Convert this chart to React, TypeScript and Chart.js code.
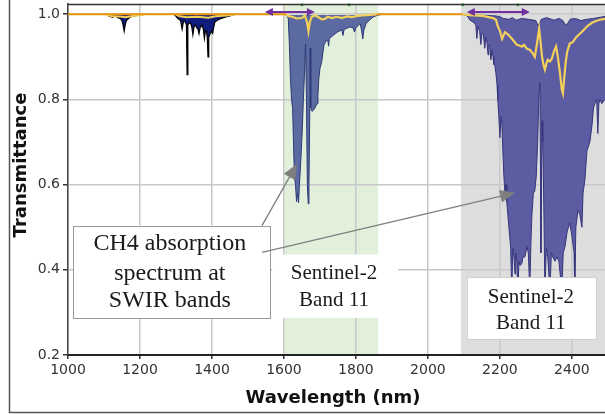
import React, { useEffect, useRef } from "react";
import { Chart, registerables } from "chart.js";
Chart.register(...registerables);

// ---------- axis ranges / ticks ----------
const X_MIN = 1000;
const X_MAX = 2492;
const Y_MIN = 0.2;
const Y_MAX = 1.024;
const X_STEP = 200;
const Y_STEP = 0.2;

// ---------- shaded bands (nm) ----------
const greenBand = [1600, 1862];
const grayBand = [2092, 2492];

// ---------- spectrum: lower envelope of transmittance ----------
const bandA_nm = [1100, 1110, 1115, 1125, 1132, 1138, 1145, 1150, 1153, 1156, 1159, 1162, 1168, 1175, 1185, 1200, 1215];
const bandA_T = [1.0, 0.999, 0.995, 0.993, 0.996, 0.992, 0.99, 0.985, 0.975, 0.96, 0.975, 0.985, 0.99, 0.994, 0.996, 0.999, 1.0];

const bandB_nm = [1295, 1303, 1308, 1313, 1317, 1321, 1326, 1329, 1331, 1333, 1337, 1341, 1344, 1347, 1350, 1354, 1358, 1361, 1364, 1367, 1372, 1376, 1379, 1382, 1385, 1387, 1389, 1391, 1395, 1399, 1402, 1405, 1408, 1415, 1422, 1432, 1441, 1450, 1460, 1470];
const bandB_T = [1.0, 0.992, 0.988, 0.985, 0.965, 0.984, 0.982, 0.975, 0.858, 0.975, 0.98, 0.978, 0.97, 0.952, 0.97, 0.975, 0.968, 0.965, 0.954, 0.968, 0.975, 0.965, 0.943, 0.962, 0.96, 0.945, 0.9, 0.945, 0.955, 0.96, 0.955, 0.97, 0.982, 0.986, 0.989, 0.992, 0.994, 0.996, 0.999, 1.0];

const bandC_nm = [1603, 1608, 1612, 1615, 1618, 1621, 1624, 1626.5, 1629, 1632, 1635, 1638, 1640.5, 1643, 1647, 1651, 1654, 1657, 1660, 1662.5, 1665, 1667.5, 1669.5, 1671.5, 1673, 1674.5, 1678, 1682, 1686, 1692, 1694.5, 1697, 1700, 1705, 1711, 1719, 1722, 1724, 1726, 1732, 1742, 1750, 1761, 1764, 1767, 1775, 1783, 1792, 1796, 1800, 1808, 1812, 1816, 1819, 1822, 1828, 1833, 1840, 1847, 1855, 1863, 1875];
const bandC_T = [1.0, 0.995, 0.99, 0.93, 0.85, 0.8, 0.78, 0.7, 0.62, 0.6, 0.56, 0.58, 0.557, 0.6, 0.66, 0.73, 0.8, 0.86, 0.93, 0.8, 0.6, 0.555, 0.6, 0.75, 0.92, 0.78, 0.772, 0.775, 0.78, 0.79, 0.812, 0.85, 0.872, 0.889, 0.928, 0.94, 0.938, 0.925, 0.942, 0.947, 0.954, 0.959, 0.963, 0.95, 0.964, 0.967, 0.97, 0.968, 0.958, 0.968, 0.975, 0.978, 0.96, 0.942, 0.962, 0.978, 0.982, 0.988, 0.993, 0.996, 0.998, 1.0];

const bandD_nm = [2092, 2097, 2108, 2117, 2125, 2133, 2136, 2139, 2144, 2147, 2150, 2154, 2158, 2161, 2164, 2167, 2169.5, 2172, 2175, 2178, 2181, 2183, 2186, 2189, 2192, 2194, 2197, 2200, 2203, 2205.5, 2208, 2211, 2214, 2217, 2219, 2222, 2225, 2228, 2230, 2233, 2236, 2239, 2242, 2244, 2247, 2250, 2253, 2256, 2261, 2264, 2269, 2272, 2275, 2279, 2283, 2286, 2289, 2293, 2297, 2301, 2305, 2308, 2311, 2313, 2314, 2315.5, 2317, 2319, 2322, 2325, 2329, 2333, 2339, 2343, 2347, 2353, 2358, 2364, 2372, 2376, 2381, 2387, 2394, 2400, 2406, 2408, 2411, 2417, 2422, 2428, 2431, 2436, 2442, 2450, 2456, 2460, 2464, 2469, 2472, 2475, 2478, 2483, 2492];
const bandD_T = [1.0, 0.999, 0.997, 0.986, 0.982, 0.975, 0.943, 0.972, 0.959, 0.929, 0.955, 0.952, 0.92, 0.945, 0.935, 0.905, 0.93, 0.928, 0.893, 0.915, 0.9, 0.882, 0.88, 0.86, 0.835, 0.8, 0.76, 0.71, 0.76, 0.74, 0.68, 0.62, 0.58, 0.6, 0.56, 0.53, 0.5, 0.47, 0.45, 0.35, 0.45, 0.43, 0.39, 0.44, 0.42, 0.35, 0.42, 0.41, 0.415, 0.43, 0.43, 0.44, 0.455, 0.44, 0.35, 0.46, 0.53, 0.58, 0.585, 0.62, 0.7, 0.8, 0.84, 0.6, 0.44, 0.6, 0.75, 0.7, 0.55, 0.35, 0.45, 0.43, 0.35, 0.44, 0.43, 0.42, 0.43, 0.42, 0.35, 0.44, 0.455, 0.49, 0.51, 0.48, 0.44, 0.35, 0.5, 0.54, 0.53, 0.5, 0.58, 0.61, 0.68, 0.7, 0.74, 0.78, 0.79, 0.8, 0.72, 0.79, 0.8, 0.79, 0.8];

// upper envelope of the 2.3 um band
const bandDTop_nm = [2092, 2100, 2130, 2165, 2190, 2200, 2210, 2225, 2235, 2245, 2260, 2280, 2300, 2305, 2310, 2315, 2330, 2350, 2365, 2375, 2382, 2388, 2395, 2410, 2425, 2440, 2460, 2480, 2492];
const bandDTop_T = [1.0, 0.999, 0.998, 0.997, 0.996, 0.994, 0.99, 0.988, 0.992, 0.986, 0.99, 0.988, 0.985, 0.975, 0.978, 0.988, 0.992, 0.986, 0.99, 0.985, 0.975, 0.978, 0.988, 0.99, 0.985, 0.988, 0.99, 0.993, 0.995];

// ---------- smoothed (band-averaged) transmittance, yellow ----------
const smoothA_nm = [1105, 1120, 1150, 1160, 1180, 1210];
const smoothA_T = [0.999, 0.996, 0.994, 0.993, 0.996, 0.999];
const smoothB_nm = [1300, 1310, 1330, 1360, 1390, 1410, 1440, 1460];
const smoothB_T = [0.999, 0.995, 0.993, 0.994, 0.992, 0.995, 0.997, 0.999];
const smoothC_nm = [1603, 1611, 1622, 1636, 1650, 1658, 1664, 1668, 1672, 1677, 1686, 1694, 1705, 1714, 1722, 1733, 1747, 1761, 1775, 1789, 1803, 1819, 1847, 1861];
const smoothC_T = [1.0, 0.996, 0.994, 0.99, 0.991, 0.997, 0.982, 0.96, 0.982, 0.994, 0.997, 0.994, 0.988, 0.989, 0.994, 0.991, 0.994, 0.991, 0.995, 0.993, 0.996, 0.997, 0.999, 1.0];
const smoothD_nm = [2092, 2117, 2153, 2181, 2189, 2194, 2200, 2206, 2214, 2222, 2236, 2247, 2256, 2261, 2267, 2275, 2283, 2292, 2297, 2303, 2309, 2313, 2317, 2321, 2325, 2329, 2333, 2339, 2344, 2350, 2356, 2361, 2367, 2372, 2375, 2379, 2383, 2387, 2394, 2403, 2411, 2419, 2428, 2436, 2444, 2456, 2467, 2478, 2492];
const smoothD_T = [1.0, 0.998, 0.996, 0.991, 0.987, 0.972, 0.961, 0.942, 0.958, 0.953, 0.94, 0.928, 0.926, 0.924, 0.928, 0.919, 0.917, 0.907, 0.9, 0.931, 0.966, 0.935, 0.9, 0.882, 0.87, 0.884, 0.893, 0.889, 0.895, 0.912, 0.924, 0.9, 0.861, 0.823, 0.814, 0.853, 0.889, 0.912, 0.931, 0.935, 0.945, 0.952, 0.959, 0.966, 0.973, 0.98, 0.984, 0.987, 0.989];

// ---------- orange reference line at T = 1 (outside the absorption bands) ----------
const ref_nm = [1000, 1605, 1606, 1858, 2095];
const ref_T = [1.0, 1.0, null, 1.0, 1.0];

// ---------- markers at the top of the plot ----------
const markers_nm = [1650, 1781, 2097, 2250];
const markers_T = [1.022, 1.022, 1.022, 1.022];

// ---------- band-width double arrows (purple) ----------
const bandArrows_nm = [
  [1547, 1686],
  [2108, 2283],
];
const bandArrow_T = 1.0055;

// ---------- annotations ----------
const ch4Box = { x0: 1014, x1: 1561, y0: 0.5037, y1: 0.2867 };
const ch4Lines = ["CH4 absorption", "spectrum at", "SWIR bands"];
const ch4Text = { x: 1283, ys: [0.4617, 0.3917, 0.3283] };

const s2BoxA = { x0: 1567, x1: 1917, y0: 0.436, y1: 0.2867 };
const s2BoxB = { x0: 2108, x1: 2467, y0: 0.3824, y1: 0.2378 };
const s2Lines = ["Sentinel-2", "Band 11"];
const s2TextA = { x: 1739, ys: [0.3917, 0.3283] };
const s2TextB = { x: 2286, ys: [0.3357, 0.2751] };

const pointerArrows = [
  { from: [1539, 0.5037], to: [1636, 0.6484] },
  { from: [1539, 0.4407], to: [2242, 0.5807] },
];

const PLOT_RIGHT = 605;

function zip(xs: number[], ys: (number | null)[]) {
  const n = Math.min(xs.length, ys.length);
  const out: { x: number; y: number | null }[] = [];
  for (let i = 0; i < n; i++) out.push({ x: xs[i], y: ys[i] });
  return out;
}

function arrowHead(ctx: CanvasRenderingContext2D, fx: number, fy: number, tx: number, ty: number, len: number, w: number, color: string) {
  const ang = Math.atan2(ty - fy, tx - fx);
  ctx.save();
  ctx.translate(tx, ty);
  ctx.rotate(ang);
  ctx.beginPath();
  ctx.moveTo(0, 0);
  ctx.lineTo(-len, w / 2);
  ctx.lineTo(-len, -w / 2);
  ctx.closePath();
  ctx.fillStyle = color;
  ctx.fill();
  ctx.restore();
}

const decorPlugin = {
  id: "decor",
  afterLayout(chart: any) {
    const ca = chart.chartArea;
    ca.right = PLOT_RIGHT;
    ca.width = ca.right - ca.left;
    const xs = chart.scales.x;
    xs.right = PLOT_RIGHT;
    xs.width = xs.right - xs.left;
    xs.configure();
  },
  beforeDraw(chart: any) {
    const { ctx, chartArea, scales } = chart;
    const xs = scales.x;
    ctx.save();
    ctx.fillStyle = "#e2efda";
    const g0 = xs.getPixelForValue(greenBand[0]);
    const g1 = xs.getPixelForValue(greenBand[1]);
    ctx.fillRect(g0, chartArea.top, g1 - g0, chartArea.bottom - chartArea.top);
    ctx.fillStyle = "#dddddd";
    const h0 = xs.getPixelForValue(grayBand[0]);
    const h1 = xs.getPixelForValue(grayBand[1]);
    ctx.fillRect(h0, chartArea.top, h1 - h0, chartArea.bottom - chartArea.top);
    ctx.restore();
  },
  afterDatasetsDraw(chart: any) {
    const { ctx, scales } = chart;
    const xs = scales.x;
    const ys = scales.y;
    ctx.save();
    const py = ys.getPixelForValue(bandArrow_T);
    for (const [a, b] of bandArrows_nm) {
      const x0 = xs.getPixelForValue(a);
      const x1 = xs.getPixelForValue(b);
      ctx.strokeStyle = "#7030a0";
      ctx.lineWidth = 2;
      ctx.beginPath();
      ctx.moveTo(x0 + 6, py);
      ctx.lineTo(x1 - 6, py);
      ctx.stroke();
      arrowHead(ctx, x1, py, x0, py, 8, 8, "#7030a0");
      arrowHead(ctx, x0, py, x1, py, 8, 8, "#7030a0");
    }
    ctx.restore();
  },
  afterDraw(chart: any) {
    const { ctx, chartArea, scales } = chart;
    const xs = scales.x;
    const ys = scales.y;
    const X = (v: number) => xs.getPixelForValue(v);
    const Y = (v: number) => ys.getPixelForValue(v);
    ctx.save();
    // top spine
    ctx.strokeStyle = "#333";
    ctx.lineWidth = 1.5;
    ctx.beginPath();
    ctx.moveTo(chartArea.left, chartArea.top + 0.5);
    ctx.lineTo(chartArea.right, chartArea.top + 0.5);
    ctx.stroke();
    // outer frame
    ctx.strokeStyle = "#555";
    ctx.lineWidth = 1.5;
    ctx.beginPath();
    ctx.moveTo(9.5, 0);
    ctx.lineTo(9.5, 412.5);
    ctx.lineTo(605, 412.5);
    ctx.stroke();

    // boxes
    const box = (b: any, stroke: string | null) => {
      const x0 = X(b.x0), x1 = X(b.x1), y0 = Y(b.y0), y1 = Y(b.y1);
      ctx.fillStyle = "#ffffff";
      ctx.fillRect(x0, y0, x1 - x0, y1 - y0);
      if (stroke) {
        ctx.strokeStyle = stroke;
        ctx.lineWidth = 1;
        ctx.strokeRect(Math.round(x0) + 0.5, Math.round(y0) + 0.5, Math.round(x1 - x0), Math.round(y1 - y0));
      }
    };
    box(s2BoxA, null);
    box(s2BoxB, "#cfcfcf");
    box(ch4Box, "#9a9a9a");

    ctx.fillStyle = "#1a1a1a";
    ctx.textAlign = "center";
    ctx.textBaseline = "middle";
    ctx.font = '24px "Liberation Serif", "Times New Roman", serif';
    ch4Lines.forEach((t, i) => ctx.fillText(t, X(ch4Text.x), Y(ch4Text.ys[i])));
    ctx.font = '21px "Liberation Serif", "Times New Roman", serif';
    s2Lines.forEach((t, i) => ctx.fillText(t, X(s2TextA.x), Y(s2TextA.ys[i])));
    s2Lines.forEach((t, i) => ctx.fillText(t, X(s2TextB.x), Y(s2TextB.ys[i])));

    // pointer arrows
    for (const a of pointerArrows) {
      const fx = X(a.from[0]), fy = Y(a.from[1]);
      const tx = X(a.to[0]), ty = Y(a.to[1]);
      const ang = Math.atan2(ty - fy, tx - fx);
      ctx.strokeStyle = "#7f7f7f";
      ctx.lineWidth = 1.3;
      ctx.beginPath();
      ctx.moveTo(fx, fy);
      ctx.lineTo(tx - Math.cos(ang) * 12, ty - Math.sin(ang) * 12);
      ctx.stroke();
      arrowHead(ctx, fx, fy, tx, ty, 15, 13, "#7f7f7f");
    }

    // axis titles
    ctx.fillStyle = "#111";
    ctx.font = 'bold 18px "DejaVu Sans", sans-serif';
    ctx.textAlign = "center";
    ctx.textBaseline = "middle";
    ctx.fillText("Wavelength (nm)", 333, 398);
    ctx.save();
    ctx.translate(21, 165);
    ctx.rotate(-Math.PI / 2);
    ctx.fillText("Transmittance", 0, 0);
    ctx.restore();
    ctx.restore();
  },
};

export default function App() {
  const ref = useRef<HTMLCanvasElement | null>(null);
  useEffect(() => {
    if (!ref.current) return;
    const lineBase = { pointRadius: 0, tension: 0, spanGaps: false };
    const chart = new Chart(ref.current, {
      type: "line",
      data: {
        datasets: [
          { ...lineBase, data: zip(bandDTop_nm, bandDTop_T), borderColor: "#35357c", borderWidth: 1, fill: false, order: 5 },
          { ...lineBase, data: zip(bandD_nm, bandD_T), borderColor: "#35357c", borderWidth: 1, backgroundColor: "#5c5ca2", fill: 0, order: 5 },
          { ...lineBase, data: zip(bandC_nm, bandC_T), borderColor: "#2d3a78", borderWidth: 1, backgroundColor: "#5b6aa0", fill: { value: 0.998 }, order: 5 },
          { ...lineBase, data: zip(bandA_nm, bandA_T), borderColor: "#000000", borderWidth: 1.2, backgroundColor: "#0f1b7d", fill: { value: 1.0 }, order: 5 },
          { ...lineBase, data: zip(bandB_nm, bandB_T), borderColor: "#000000", borderWidth: 1.2, backgroundColor: "#0f1b7d", fill: { value: 1.0 }, order: 5 },
          { ...lineBase, data: zip(smoothA_nm, smoothA_T), borderColor: "#f3d05a", borderWidth: 2, fill: false, order: 2 },
          { ...lineBase, data: zip(smoothB_nm, smoothB_T), borderColor: "#f3d05a", borderWidth: 2, fill: false, order: 2 },
          { ...lineBase, data: zip(smoothC_nm, smoothC_T), borderColor: "#f3d05a", borderWidth: 2.2, fill: false, order: 2 },
          { ...lineBase, data: zip(smoothD_nm, smoothD_T), borderColor: "#f3d05a", borderWidth: 2.2, fill: false, order: 2 },
          { ...lineBase, data: zip(ref_nm, ref_T), borderColor: "#e8960f", borderWidth: 2, fill: false, order: 1 },
          { data: zip(markers_nm, markers_T), showLine: false, pointRadius: 1.5, pointBackgroundColor: "#2e9e3e", pointBorderWidth: 0, clip: false as any, order: 0 },
        ] as any,
      },
      options: {
        animation: false,
        responsive: false,
        devicePixelRatio: 1,
        layout: { padding: { top: 2, left: 0, right: 0, bottom: 0 } },
        plugins: { legend: { display: false }, tooltip: { enabled: false } },
        events: [],
        scales: {
          x: {
            type: "linear",
            min: X_MIN,
            max: X_MAX,
            ticks: {
              stepSize: X_STEP,
              includeBounds: false,
              autoSkip: false,
              maxRotation: 0,
              padding: 3,
              color: "#333",
              font: { family: '"DejaVu Sans", sans-serif', size: 14 },
              callback: (v: any) => String(v),
            },
            grid: { color: "#c8c8c8", lineWidth: 1.5, tickLength: 4, tickColor: "#333" },
            border: { color: "#222", width: 2 },
            afterFit: (s: any) => { s.height = 59; s.paddingLeft = 0; s.paddingRight = 0; },
          },
          y: {
            type: "linear",
            min: Y_MIN,
            max: Y_MAX,
            ticks: {
              stepSize: Y_STEP,
              includeBounds: false,
              padding: 3,
              color: "#333",
              font: { family: '"DejaVu Sans", sans-serif', size: 14 },
              callback: (v: any) => Number(v).toFixed(1),
            },
            grid: { color: "#c8c8c8", lineWidth: 1.5, tickLength: 5, tickColor: "#333" },
            border: { color: "#444", width: 1.5 },
            afterFit: (s: any) => { s.width = 68; s.paddingTop = 0; s.paddingBottom = 0; },
          },
        },
      } as any,
      plugins: [decorPlugin],
    });
    return () => chart.destroy();
  }, []);
  return (
    <div style={{ position: "absolute", left: 0, top: 0, width: 605, height: 414, background: "#fff" }}>
      <canvas ref={ref} width={605} height={414} style={{ display: "block" }} />
    </div>
  );
}
